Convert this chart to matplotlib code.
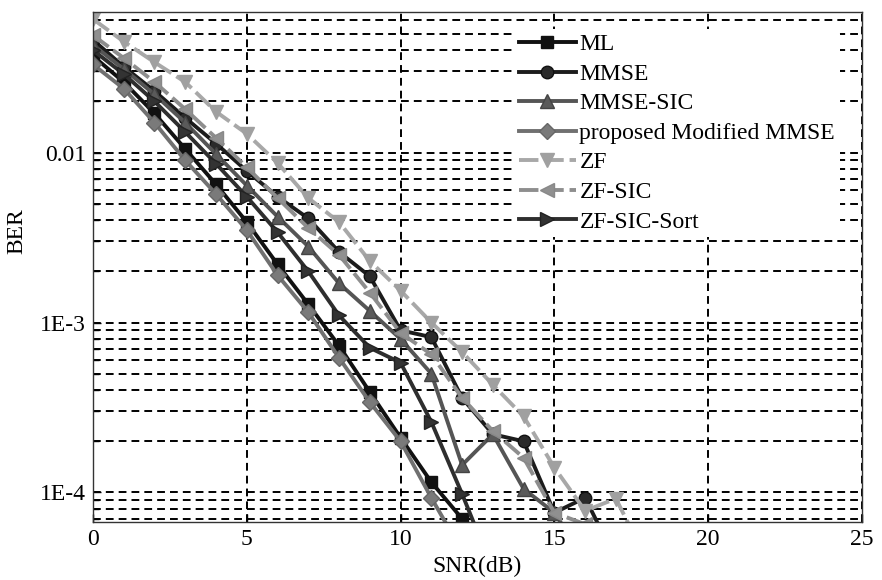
import numpy as np
import matplotlib
matplotlib.use('Agg')
import matplotlib.pyplot as plt
from matplotlib.ticker import FixedLocator, LogLocator, NullFormatter

# === Data ===
snr_ml = [0, 1, 2, 3, 4, 5, 6, 7, 8, 9, 10, 11, 12, 13]
ber_ml = [0.037, 0.026, 0.017, 0.0105, 0.0065, 0.0039, 0.0022, 0.00128,
          7.3e-4, 3.9e-4, 2.1e-4, 1.15e-4, 7.0e-5, 3.5e-5]

snr_mmse = [0, 1, 2, 3, 4, 5, 6, 7, 8, 9, 10, 11, 12, 13, 14, 15, 16, 17]
ber_mmse = [0.046, 0.032, 0.023, 0.016, 0.0113, 0.0078, 0.0055, 0.0041,
            0.0026, 0.00187, 9.0e-4, 8.2e-4, 3.6e-4, 2.2e-4, 2.0e-4,
            7.6e-5, 9.3e-5, 4.0e-5]

snr_mmse_sic = [0, 1, 2, 3, 4, 5, 6, 7, 8, 9, 10, 11, 12, 13, 14, 15, 16]
ber_mmse_sic = [0.043, 0.031, 0.022, 0.015, 0.0098, 0.0064, 0.0042, 0.0028,
                0.0017, 0.00117, 8.0e-4, 5.0e-4, 1.45e-4, 2.2e-4, 1.05e-4,
                7.6e-5, 4.0e-5]

snr_prop = [0, 1, 2, 3, 4, 5, 6, 7, 8, 9, 10, 11, 12]
ber_prop = [0.033, 0.0238, 0.015, 0.009, 0.0057, 0.0035, 0.0019, 0.00115,
            6.2e-4, 3.4e-4, 2.0e-4, 9.3e-5, 4.5e-5]

snr_zf = [0, 1, 2, 3, 4, 5, 6, 7, 8, 9, 10, 11, 12, 13, 14, 15, 16, 17, 18]
ber_zf = [0.061, 0.045, 0.034, 0.026, 0.0174, 0.0129, 0.0087, 0.0054,
          0.0039, 0.0023, 0.00154, 0.0010, 6.7e-4, 4.3e-4, 2.8e-4,
          1.4e-4, 7.8e-5, 9.2e-5, 4.0e-5]

snr_zf_sic = [0, 1, 2, 3, 4, 5, 6, 7, 8, 9, 10, 11, 12, 13, 14, 15, 16, 17]
ber_zf_sic = [0.049, 0.036, 0.026, 0.018, 0.0122, 0.0082, 0.0054, 0.0036,
              0.0025, 0.0015, 8.7e-4, 6.5e-4, 3.6e-4, 2.3e-4, 1.6e-4,
              7.6e-5, 6.5e-5, 3.0e-5]

snr_zf_sort = [0, 1, 2, 3, 4, 5, 6, 7, 8, 9, 10, 11, 12, 13]
ber_zf_sort = [0.040, 0.029, 0.020, 0.0132, 0.0086, 0.0055, 0.0034, 0.0020,
               0.0011, 7.1e-4, 5.8e-4, 2.6e-4, 9.8e-5, 3.5e-5]

ytick_vals = [1e-4, 1e-3, 1e-2]
ytick_labels = ['1E-4', '1E-3', '0.01']
xtick_vals = [0, 5, 10, 15, 20, 25]

# === Plot ===
plt.rcParams['font.family'] = ['Liberation Serif', 'DejaVu Serif']
plt.rcParams['font.size'] = 17

fig = plt.figure(figsize=(8.82, 5.80), dpi=100)
ax = fig.add_axes([0.1054, 0.10, 0.8719, 0.879])

grid_ls = (0, (4, 2.6))
ax.set_yscale('log')
ax.set_xlim(0, 25)
ax.set_ylim(6.7e-5, 6.7e-2)

ax.yaxis.set_major_locator(FixedLocator(ytick_vals))
ax.set_yticklabels(ytick_labels)
ax.yaxis.set_minor_locator(LogLocator(base=10, subs=np.arange(2, 10)))
ax.yaxis.set_minor_formatter(NullFormatter())
ax.set_xticks(xtick_vals)

ax.grid(True, which='both', axis='y', color='black', linestyle=grid_ls, lw=1.4)
ax.grid(True, which='major', axis='x', color='black', linestyle=grid_ls, lw=1.4)
ax.tick_params(direction='in', which='both', length=4, width=1, labelsize=17, pad=5)
ax.tick_params(which='major', length=6)
for s in ax.spines.values():
    s.set_linewidth(1.0)
    s.set_color('#333333')

lw = 2.8
ms = 9
ax.plot(snr_ml, ber_ml, color='#111111', marker='s', ms=ms - 1, lw=lw,
        mfc='#111111', mec='#111111', label='ML')
ax.plot(snr_mmse, ber_mmse, color='#1c1c1c', marker='o', ms=ms, lw=lw,
        mfc='#2a2a2a', mec='#111111', label='MMSE')
ax.plot(snr_mmse_sic, ber_mmse_sic, color='#555555', marker='^', ms=ms + 1, lw=lw,
        mfc='#5a5a5a', mec='#444444', label='MMSE-SIC')
ax.plot(snr_prop, ber_prop, color='#707070', marker='D', ms=ms - 1, lw=lw,
        mfc='#7a7a7a', mec='#666666', label='proposed Modified MMSE')
ax.plot(snr_zf, ber_zf, color='#a8a8a8', marker='v', ms=ms + 1, lw=lw,
        linestyle=(0, (5, 1.5)), mfc='#a0a0a0', mec='#a0a0a0', label='ZF')
ax.plot(snr_zf_sic, ber_zf_sic, color='#8e8e8e', marker='<', ms=ms + 1, lw=lw,
        linestyle=(0, (5, 1.5)), mfc='#909090', mec='#888888', label='ZF-SIC')
ax.plot(snr_zf_sort, ber_zf_sort, color='#2e2e2e', marker='>', ms=ms + 1, lw=lw,
        mfc='#333333', mec='#222222', label='ZF-SIC-Sort')

ax.set_xlabel('SNR(dB)', fontsize=17, labelpad=4)
ax.set_ylabel('BER', fontsize=17)
ax.yaxis.set_label_coords(-0.085, 0.57)

leg = ax.legend(loc='upper left', bbox_to_anchor=(0.548, 0.967), fontsize=17,
                frameon=True, facecolor='white', edgecolor='none', framealpha=1,
                handlelength=2.4, handletextpad=0.15, labelspacing=0.34,
                borderpad=0.2, borderaxespad=0)

plt.savefig('out.png', dpi=100)
